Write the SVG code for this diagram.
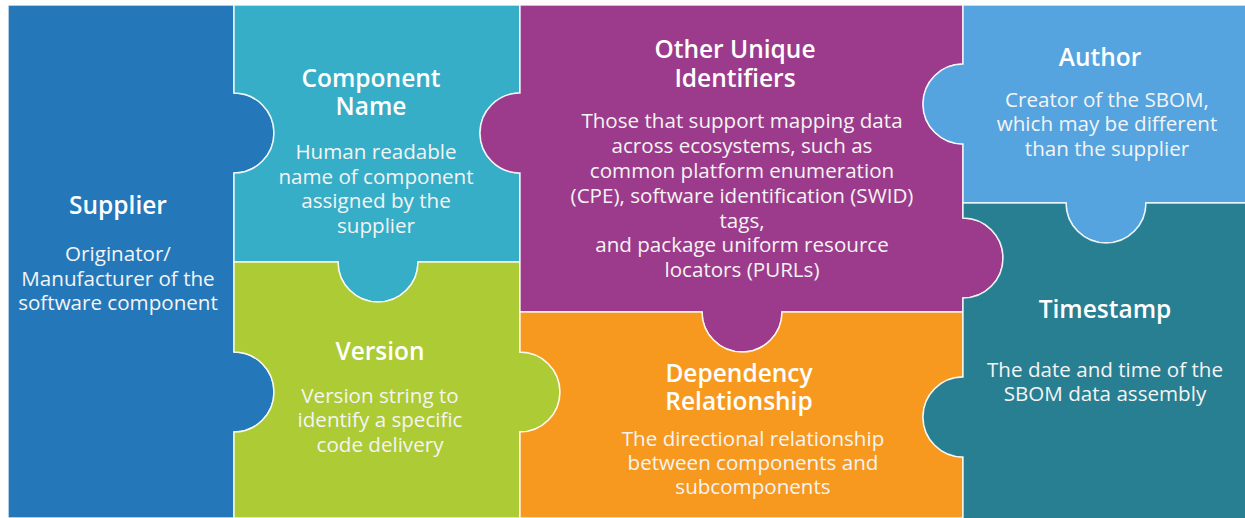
<svg xmlns="http://www.w3.org/2000/svg" width="1245" height="518" viewBox="0 0 1245 518">
  <style>
    .piece { stroke: #ffffff; stroke-width: 1.5; stroke-opacity: 0.85; }
    .title { font-family: "Open Sans", "Noto Sans", "Liberation Sans", sans-serif; font-weight: 600; font-size: 24.5px; fill: #ffffff; text-anchor: middle; }
    .body { font-family: "Open Sans", "Noto Sans", "Liberation Sans", sans-serif; font-weight: 400; font-size: 20.6px; fill: #f4f4f4; text-anchor: middle; }
  </style>
  <rect width="1245" height="518" fill="#ffffff"/>

  <!-- Supplier -->
  <g id="supplier">
    <path class="piece" fill="#2478BA" d="M8,5 H234 V93 A40,40 0 0 1 234,173 V352 A40,40 0 0 1 234,432 V518 H8 Z"/>
    <text class="title" x="118" y="214">Supplier</text>
    <text class="body" x="118" y="261">Originator/</text>
    <text class="body" x="118" y="286">Manufacturer of the</text>
    <text class="body" x="118" y="310">software component</text>
  </g>

  <!-- Component Name -->
  <g id="component-name">
    <path class="piece" fill="#37AEC7" d="M234,5 H520 V93 A40,40 0 0 0 520,173 V262 H418 A40,40 0 0 1 338,262 H234 V173 A40,40 0 0 0 234,93 Z"/>
    <text class="title" x="371" y="87">Component</text>
    <text class="title" x="371" y="115">Name</text>
    <text class="body" x="376" y="159">Human readable</text>
    <text class="body" x="376" y="184">name of component</text>
    <text class="body" x="376" y="208">assigned by the</text>
    <text class="body" x="376" y="233">supplier</text>
  </g>

  <!-- Version -->
  <g id="version">
    <path class="piece" fill="#ADCB34" d="M234,262 H338 A40,40 0 0 0 418,262 H520 V352 A40,40 0 0 1 520,432 V518 H234 V432 A40,40 0 0 0 234,352 Z"/>
    <text class="title" x="380" y="360">Version</text>
    <text class="body" x="380" y="403">Version string to</text>
    <text class="body" x="380" y="427">identify a specific</text>
    <text class="body" x="380" y="452">code delivery</text>
  </g>

  <!-- Other Unique Identifiers -->
  <g id="other-unique-identifiers">
    <path class="piece" fill="#9C3B8B" d="M520,5 H963 V64 A40,40 0 0 0 963,144 V218 A40,40 0 0 1 963,298 V312 H782 A40,40 0 0 1 702,312 H520 V173 A40,40 0 0 1 520,93 Z"/>
    <text class="title" x="735" y="58">Other Unique</text>
    <text class="title" x="735" y="87">Identifiers</text>
    <text class="body" x="742" y="128">Those that support mapping data</text>
    <text class="body" x="742" y="153">across ecosystems, such as</text>
    <text class="body" x="742" y="178">common platform enumeration</text>
    <text class="body" x="742" y="203">(CPE), software identification (SWID)</text>
    <text class="body" x="742" y="228">tags,</text>
    <text class="body" x="742" y="252">and package uniform resource</text>
    <text class="body" x="742" y="277">locators (PURLs)</text>
  </g>

  <!-- Dependency Relationship -->
  <g id="dependency-relationship">
    <path class="piece" fill="#F8991F" d="M520,312 H702 A40,40 0 0 0 782,312 H963 V377 A40,40 0 0 0 963,457 V518 H520 V432 A40,40 0 0 0 520,352 Z"/>
    <text class="title" x="739" y="382">Dependency</text>
    <text class="title" x="739" y="410">Relationship</text>
    <text class="body" x="753" y="446">The directional relationship</text>
    <text class="body" x="753" y="470">between components and</text>
    <text class="body" x="753" y="494">subcomponents</text>
  </g>

  <!-- Author -->
  <g id="author">
    <path class="piece" fill="#55A4DF" d="M963,5 H1246 V203 H1146 A40,40 0 0 1 1066,203 H963 V144 A40,40 0 0 1 963,64 Z"/>
    <text class="title" x="1100" y="66">Author</text>
    <text class="body" x="1107" y="107">Creator of the SBOM,</text>
    <text class="body" x="1107" y="131">which may be different</text>
    <text class="body" x="1107" y="156">than the supplier</text>
  </g>

  <!-- Timestamp -->
  <g id="timestamp">
    <path class="piece" fill="#287F91" d="M963,203 H1066 A40,40 0 0 0 1146,203 H1246 V519 H963 V457 A40,40 0 0 1 963,377 V298 A40,40 0 0 0 963,218 Z"/>
    <text class="title" x="1105" y="318">Timestamp</text>
    <text class="body" x="1105" y="377">The date and time of the</text>
    <text class="body" x="1105" y="401">SBOM data assembly</text>
  </g>

  <!-- no connectors: pieces interlock directly -->
  <g id="connectors"/>
</svg>
